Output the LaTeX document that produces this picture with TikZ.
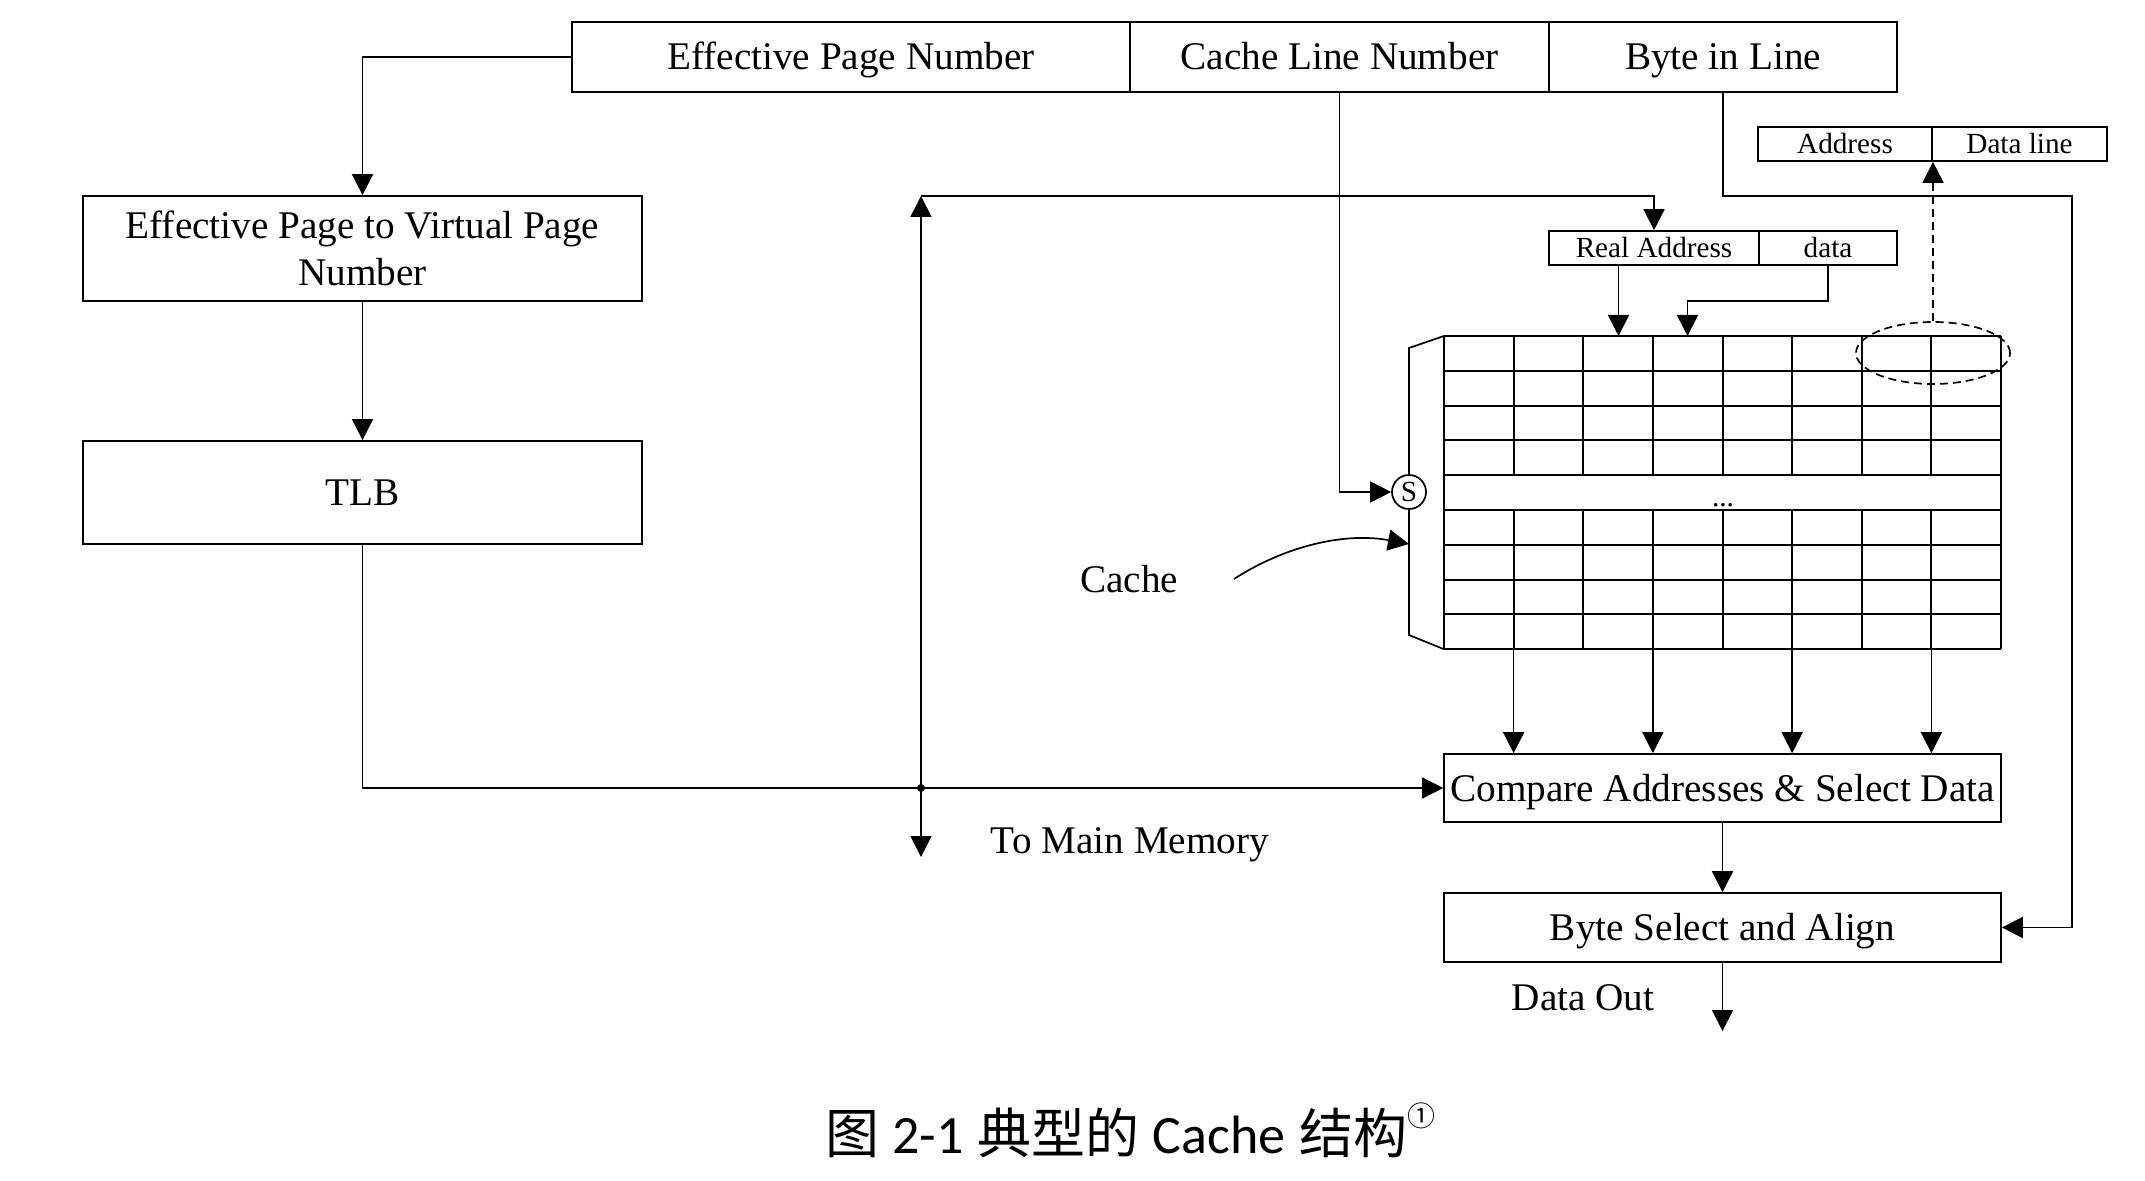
\documentclass[tikz,border=0pt]{standalone}
\usepackage{fontspec}
\setmainfont{Liberation Serif}
\newfontfamily\cjk{Noto Sans CJK SC}
\newfontfamily\capl{Carlito}
\usetikzlibrary{arrows.meta,calc,shapes.geometric}
\begin{document}
\begin{tikzpicture}[x=0.5pt,y=-0.5pt,
  line width=0.85pt,
  box/.style={draw, rectangle, inner sep=0pt, font=\fontsize{19.6}{23.5}\selectfont, align=center},
  lbox/.style={box, text height=16pt, text depth=3pt},
  sbox/.style={draw, rectangle, inner sep=0pt, font=\fontsize{14.6}{17}\selectfont, text height=12pt, text depth=2.3pt},
  arr/.style={-{Triangle[length=10.5pt,width=10.5pt]}},
  lbl/.style={font=\fontsize{19.6}{23.5}\selectfont, inner sep=0pt},
  gridline/.style={line width=1pt},
  dashline/.style={dash pattern=on 4pt off 2.5pt},
]
\useasboundingbox (0,0) rectangle (2145,1181);

% top address fields
\node[lbox, minimum width=279pt, minimum height=35pt] (epn) at (851,57) {Effective Page Number};
\node[lbox, minimum width=209.5pt, minimum height=35pt] (cln) at (1339.5,57) {Cache Line Number};
\node[lbox, minimum width=174pt, minimum height=35pt] (bil) at (1723,57) {Byte in Line};

% left column
\node[box, minimum width=279.5pt, minimum height=52.5pt] (epv) at (362.5,248.5) {Effective Page to Virtual Page\\Number};
\node[lbox, minimum width=279.5pt, minimum height=51.5pt] (tlb) at (362.5,492.5) {TLB};

% small boxes
\node[sbox, minimum width=87pt, minimum height=17pt] (adr) at (1845,144) {Address};
\node[sbox, minimum width=87.5pt, minimum height=17pt] (dl) at (2019.5,144) {Data line};
\node[sbox, minimum width=105pt, minimum height=17pt] (ra) at (1654,248) {Real Address};
\node[sbox, minimum width=69pt, minimum height=17pt] (da) at (1828,248) {data};

% lower boxes
\node[lbox, minimum width=278.5pt, minimum height=34pt] (cmp) at (1722.5,788) {Compare Addresses \& Select Data};
\node[lbox, minimum width=278.5pt, minimum height=34.5pt] (bsa) at (1722.5,927.5) {Byte Select and Align};

% cache grid
\foreach \j in {0,...,9}
  \draw[gridline] (1444,{336+34.8*\j}) -- (2001,{336+34.8*\j});
\foreach \i in {0,8}
  \draw[gridline] ({1444+69.625*\i},336) -- ({1444+69.625*\i},649.2);
\foreach \i in {1,...,7}{
  \draw[gridline] ({1444+69.625*\i},336) -- ({1444+69.625*\i},475.2);
  \draw[gridline] ({1444+69.625*\i},510) -- ({1444+69.625*\i},649.2);
}
\node[inner sep=0pt, anchor=base, font=\fontsize{14.6}{17}\selectfont] (dots) at (1723,507) {...};

% bracket (selector)
\draw (1444,336) -- (1409,348) -- (1409,635) -- (1444,649.2);
\node[circle, draw, fill=white, minimum size=17pt, inner sep=0pt, font=\fontsize{14.6}{17}\selectfont] (s) at (1409,492) {S};

% dashed ellipse
\node[draw, dashline, ellipse, minimum width=77pt, minimum height=31pt, inner sep=0pt] (ell) at (1933,353) {};

% coordinates
\coordinate (tp) at (921,196);
\coordinate (jn) at (921,788);
\coordinate (mm) at (921,857);
\coordinate (br) at (2072,196);
\coordinate (c3) at (1618.5,336);
\coordinate (c4) at (1687.5,336);
\coordinate (t4) at (1687.5,301);
\coordinate (dout) at (1722.5,1031);
\coordinate (cs) at (1234,579);
\coordinate (ce) at (1409,544);
\foreach \k in {1,3,5,7}
  \coordinate (g\k) at ({1444+69.625*\k},649.2);

% connectors
\draw[arr] (epn.west) -| (epv.north);
\draw[arr] (epv.south) -- (tlb.north);
\draw[arr] (tlb.south) |- (cmp.west);
\fill (jn) circle (2pt);
\draw[arr] (jn) -- (tp);
\draw[arr] (jn) -- (mm);
\draw[arr] (tp) -| (ra.north);
\draw[arr] (cln.south) |- (s.west);
\draw[arr] (bil.south) |- (br) |- (bsa.east);
\draw[arr] (c3 |- ra.south) -- (c3);
\draw[arr] (da.south) |- (t4) -- (c4);
\draw[arr, dashline] (ell.north) -- (ell.north |- adr.south);
\foreach \k in {1,3,5,7}
  \draw[arr] (g\k) -- (g\k |- cmp.north);
\draw[arr] (cmp.south) -- (bsa.north);
\draw[arr] (bsa.south) -- (dout);
\draw[arr] (cs) .. controls (1285,546) and (1345,532) .. (ce);

% labels
\node[lbl] (cachelbl) at (1129,579) {Cache};
\node[lbl] (tmm) at (1130,845) {To Main Memory};
\node[lbl] (dolbl) at (1583,998) {Data Out};

% caption
\node[inner sep=0pt, font=\fontsize{27}{30}\selectfont] (cap) at (1130,1130)
  {{\cjk 图} {\capl 2-1} {\cjk 典型的} {\capl Cache} {\cjk 结构}\raisebox{0.5em}{\fontsize{14}{14}\selectfont\cjk ①}};
\end{tikzpicture}
\end{document}
